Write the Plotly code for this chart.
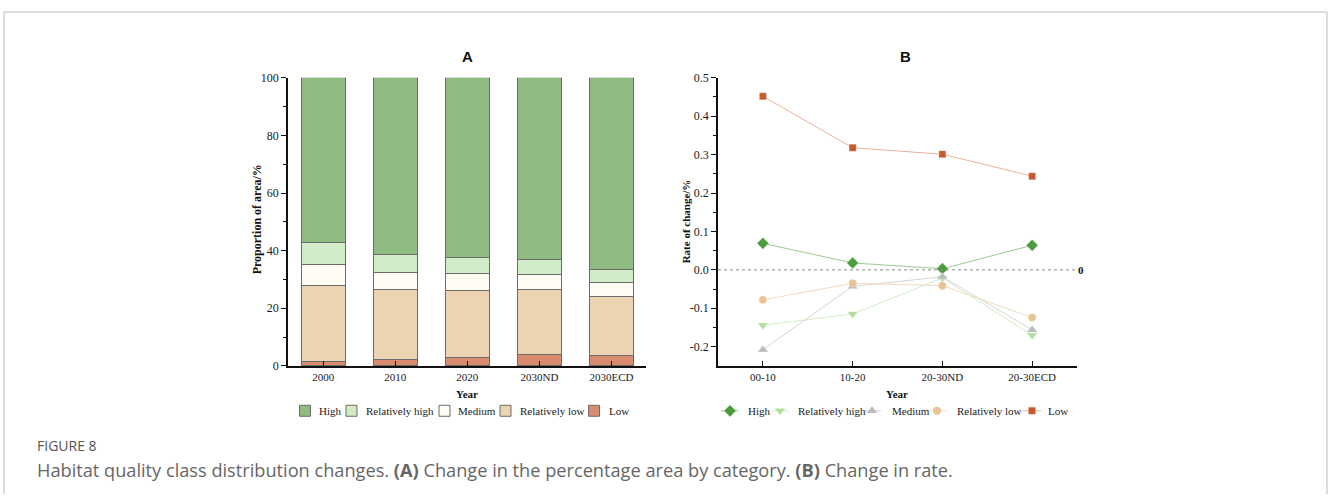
import plotly.graph_objects as go

# ---- Panel A: share of area by habitat-quality class (%) ----
years = ["2000", "2010", "2020", "2030ND", "2030ECD"]
classes = ["High", "Relatively high", "Medium", "Relatively low", "Low"]
share_low = [1.5, 2.2, 3.0, 3.8, 3.7]
share_rel_low = [26.3, 24.3, 23.2, 22.6, 20.4]
share_medium = [7.4, 5.9, 5.9, 5.3, 4.9]
share_rel_high = [7.5, 6.2, 5.5, 5.4, 4.5]
share_high = [57.3, 61.4, 62.4, 62.9, 66.5]

# ---- Panel B: rate of change (%) per period ----
periods = ["00-10", "10-20", "20-30ND", "20-30ECD"]
rate_high = [0.069, 0.018, 0.003, 0.064]
rate_rel_high = [-0.144, -0.115, -0.021, -0.170]
rate_medium = [-0.208, -0.043, -0.018, -0.156]
rate_rel_low = [-0.078, -0.035, -0.041, -0.124]
rate_low = [0.452, 0.318, 0.301, 0.244]

W, H = 1328, 501
SERIF = "Liberation Serif"
SANS = "Open Sans"

# vertical layout positions are given in screen pixels; the page is shown
# slightly squeezed vertically, so convert them to figure pixels first
V_OFF, V_SCALE = 6.0, 0.975


def fig_py(p):
    return (p - V_OFF) / V_SCALE


def px_x(p):
    return p / W


def px_y(p):
    return 1 - fig_py(p) / H


bar_fill = {
    "High": "#8fbc80",
    "Relatively high": "#d2ecc9",
    "Medium": "#fffcf3",
    "Relatively low": "#ecd4b3",
    "Low": "#d98b6d",
}
bar_edge = "#6b6b6b"
# marker colour, line colour, symbol, marker size
line_marker = {
    "High": ("#4c9c3e", "#9ccb90", "diamond", 9),
    "Relatively high": ("#b3df9c", "#d3edc5", "triangle-down", 9),
    "Medium": ("#bcbcbc", "#d6d6d6", "triangle-up", 9),
    "Relatively low": ("#e6c496", "#f0dcc0", "circle", 8),
    "Low": ("#c65a2e", "#eab29a", "square", 7),
}

fig = go.Figure()

# stacked bars, bottom to top
stack = [
    ("Low", share_low),
    ("Relatively low", share_rel_low),
    ("Medium", share_medium),
    ("Relatively high", share_rel_high),
    ("High", share_high),
]
for name, vals in stack:
    fig.add_trace(go.Bar(
        x=years, y=vals, name=name, xaxis="x", yaxis="y",
        width=0.61,
        marker=dict(color=bar_fill[name], line=dict(color=bar_edge, width=1)),
        showlegend=False,
    ))

series_b = [
    ("High", rate_high),
    ("Relatively high", rate_rel_high),
    ("Medium", rate_medium),
    ("Relatively low", rate_rel_low),
    ("Low", rate_low),
]
for name, vals in series_b:
    mcol, lcol, sym, size = line_marker[name]
    fig.add_trace(go.Scatter(
        x=periods, y=vals, name=name, xaxis="x2", yaxis="y2",
        mode="lines+markers",
        line=dict(color=lcol, width=1),
        marker=dict(color=mcol, symbol=sym, size=size,
                    line=dict(color="rgba(255,255,255,0.5)", width=0.5)),
        showlegend=False,
    ))

# ---- legend keys, laid out on a full-page pixel overlay axis ----
LEG_Y = 411
key_a_x = [305, 351.5, 444.5, 505.5, 594]
text_a_x = [317, 364, 456, 518, 607]
key_b_x = [730, 780, 872, 937, 1032]
text_b_x = [746, 796, 890, 955, 1046]

for i, name in enumerate(classes):
    fig.add_trace(go.Scatter(
        x=[key_a_x[i]], y=[fig_py(LEG_Y)], xaxis="x3", yaxis="y3", mode="markers",
        marker=dict(symbol="square", size=11, color=bar_fill[name],
                    line=dict(color=bar_edge, width=1)),
        showlegend=False, hoverinfo="skip",
    ))
    mcol, lcol, sym, size = line_marker[name]
    cx = key_b_x[i]
    fig.add_trace(go.Scatter(
        x=[cx - 9, cx + 9], y=[fig_py(LEG_Y)] * 2, xaxis="x3", yaxis="y3",
        mode="lines", line=dict(color=lcol, width=1),
        showlegend=False, hoverinfo="skip",
    ))
    fig.add_trace(go.Scatter(
        x=[cx], y=[fig_py(LEG_Y)], xaxis="x3", yaxis="y3", mode="markers",
        marker=dict(color=mcol, symbol=sym, size=size),
        showlegend=False, hoverinfo="skip",
    ))

ytickfont = dict(family=SERIF, size=12, color="#1a1a1a")
xtickfont = dict(family=SERIF, size=11, color="#1a1a1a")
axis_common = dict(showline=True, linecolor="#111", linewidth=1.5,
                   showgrid=False, zeroline=False)
tick_common = dict(tickcolor="#111", tickwidth=1)

ya_top, ya_bot = 77, 366
fig.update_layout(
    width=W, height=H,
    margin=dict(l=0, r=0, t=0, b=0),
    paper_bgcolor="white", plot_bgcolor="rgba(0,0,0,0)",
    barmode="stack",
    showlegend=False,
    xaxis=dict(domain=[px_x(288), px_x(646)], anchor="y", range=[-0.49, 4.48],
               type="category", ticks="inside", ticklen=5, tickfont=xtickfont,
               **tick_common, **axis_common),
    yaxis=dict(domain=[px_y(ya_bot), px_y(ya_top)], anchor="x", range=[0, 100],
               tickvals=[0, 20, 40, 60, 80, 100], ticks="outside", ticklen=5,
               tickfont=ytickfont, **tick_common,
               minor=dict(tickvals=[10, 30, 50, 70, 90], ticks="outside",
                          ticklen=3, **tick_common),
               **axis_common),
    xaxis2=dict(domain=[px_x(718), px_x(1077)], anchor="y2", range=[-0.5, 3.5],
                type="category", ticks="inside", ticklen=5, tickfont=xtickfont,
                **tick_common, **axis_common),
    yaxis2=dict(domain=[px_y(ya_bot), px_y(ya_top)], anchor="x2", range=[-0.25, 0.5],
                tickvals=[-0.2, -0.1, 0.0, 0.1, 0.2, 0.3, 0.4, 0.5],
                ticktext=["-0.2", "-0.1", "0.0", "0.1", "0.2", "0.3", "0.4", "0.5"],
                ticks="outside", ticklen=5, tickfont=ytickfont, **tick_common,
                minor=dict(tickvals=[-0.15, -0.05, 0.05, 0.15, 0.25, 0.35, 0.45],
                           ticks="outside", ticklen=3, **tick_common),
                **axis_common),
    xaxis3=dict(domain=[0, 1], anchor="y3", range=[0, W], visible=False,
                fixedrange=True),
    yaxis3=dict(domain=[0, 1], anchor="x3", range=[H, 0], visible=False,
                fixedrange=True),
)

# dotted zero reference line in panel B
fig.add_shape(type="line", xref="x2 domain", yref="y2", x0=0, x1=1, y0=0, y1=0,
              line=dict(color="#8a8a8a", width=1, dash="dot"))

# outer frame (top, left, right)
frame = dict(color="#d2d2d2", width=1.5)
fig.add_shape(type="line", xref="paper", yref="paper",
              x0=px_x(4), x1=px_x(1327), y0=px_y(11), y1=px_y(11), line=frame)
fig.add_shape(type="line", xref="paper", yref="paper",
              x0=px_x(4), x1=px_x(4), y0=px_y(11), y1=0, line=frame)
fig.add_shape(type="line", xref="paper", yref="paper",
              x0=px_x(1327), x1=px_x(1327), y0=px_y(11), y1=0, line=frame)


def note(text, x, y, size, family, color="#111", angle=0, xanchor="center", bold=False):
    fig.add_annotation(
        text=f"<b>{text}</b>" if bold else text,
        x=px_x(x), y=px_y(y), xref="paper", yref="paper",
        xanchor=xanchor, yanchor="middle", showarrow=False, textangle=angle,
        font=dict(family=family, size=size, color=color),
    )


note("A", 467, 56, 15, "Liberation Sans", bold=True)
note("B", 905, 56, 15, "Liberation Sans", bold=True)
note("Proportion of area/%", 257, 219, 12, SERIF, angle=-90, bold=True)
note("Rate of change/%", 686, 221, 11, SERIF, angle=-90, bold=True)
note("Year", 467, 394, 11, SERIF, bold=True)
note("Year", 897, 394, 11, SERIF, bold=True)
note("0", 1076, 270, 11, SERIF, xanchor="left", bold=True)

for i, name in enumerate(classes):
    note(name, text_a_x[i], LEG_Y, 11, SERIF, color="#1a1a1a", xanchor="left")
    note(name, text_b_x[i], LEG_Y, 11, SERIF, color="#1a1a1a", xanchor="left")

note("FIGURE 8", 35, 446, 14, SANS, color="#555", xanchor="left")
note("Habitat quality class distribution changes. <b>(A)</b> Change in the percentage "
     "area by category. <b>(B)</b> Change in rate.",
     35, 470, 18.2, SANS, color="#666", xanchor="left")

fig.write_html("out.html")
